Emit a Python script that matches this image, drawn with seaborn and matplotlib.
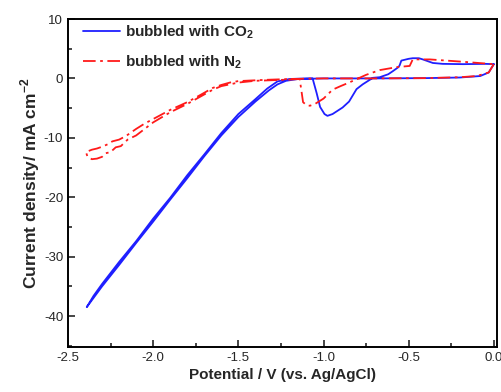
import matplotlib
matplotlib.use("Agg")
import matplotlib.pyplot as plt
import pandas as pd
import seaborn as sns
from matplotlib.ticker import MultipleLocator

# CV scan, bubbled with CO2 (potential V, current mA cm-2)
co2_pot = [0.0, -0.03, -0.08, -0.2, -0.4, -0.7, -1.0, -1.15, -1.22, -1.27, -1.32,
           -1.4, -1.5, -1.6, -1.7, -1.8, -1.9, -2.0, -2.1, -2.2, -2.3, -2.39,
           -2.35, -2.3, -2.2, -2.1, -2.0, -1.9, -1.8, -1.7, -1.6, -1.5, -1.4, -1.33,
           -1.27, -1.2, -1.1, -1.064, -1.04, -1.02, -0.994, -0.977, -0.947,
           -0.888, -0.85, -0.806, -0.77, -0.71, -0.67, -0.62, -0.594, -0.56,
           -0.553, -0.543, -0.5, -0.476, -0.44, -0.417, -0.358, -0.3, -0.18,
           -0.05, 0.0]
co2_cur = [2.4, 1.0, 0.4, 0.15, 0.05, 0.0, 0.0, -0.1, -0.4, -1.0, -2.0,
           -3.9, -6.5, -9.6, -13.1, -16.8, -20.4, -24.1, -27.7, -31.4, -35.0, -38.5,
           -36.6, -34.6, -30.9, -27.4, -23.6, -20.1, -16.3, -12.8, -9.2, -6.0, -3.5, -1.7,
           -0.5, -0.1, 0.0, 0.0, -2.5, -4.8, -6.0, -6.3, -6.0,
           -4.9, -3.9, -1.8, -1.0, 0.1, 0.2, 0.7, 1.2, 1.9,
           2.2, 3.0, 3.3, 3.4, 3.4, 3.2, 2.6, 2.45, 2.4,
           2.45, 2.4]

# CV scan, bubbled with N2
n2_pot = [0.0, -0.03, -0.1, -0.2, -0.4, -0.7, -1.0, -1.2, -1.35, -1.5, -1.55,
          -1.6, -1.65, -1.73, -1.8, -1.9, -1.965, -2.05, -2.1, -2.16, -2.2, -2.24,
          -2.26, -2.3, -2.33, -2.36, -2.395, -2.385, -2.36, -2.33, -2.3, -2.28,
          -2.25, -2.22, -2.19, -2.15, -2.1, -2.0, -1.9, -1.8, -1.7, -1.65, -1.6,
          -1.5, -1.4, -1.3, -1.2, -1.14, -1.13, -1.12, -1.1, -1.08, -1.05, -1.0,
          -0.947, -0.9, -0.85, -0.75, -0.67, -0.57, -0.494, -0.476, -0.376,
          -0.18, 0.0]
n2_cur = [2.4, 1.0, 0.4, 0.2, 0.05, 0.0, 0.0, -0.1, -0.25, -0.45, -0.7,
          -1.1, -1.6, -2.9, -4.0, -5.3, -6.3, -7.6, -8.5, -9.7, -10.3, -10.6,
          -11.0, -11.5, -11.8, -12.0, -12.4, -13.2, -13.6, -13.5, -13.2, -12.6,
          -12.4, -11.6, -11.4, -10.3, -9.6, -7.4, -5.7, -4.3, -2.7, -1.9, -1.3,
          -0.7, -0.4, -0.3, -0.2, -0.1, -2.0, -4.0, -4.5, -4.6, -4.3, -3.4,
          -1.9, -1.3, -0.7, 0.6, 1.4, 1.9, 2.1, 3.2, 3.2,
          2.8, 2.4]

labels = ["bubbled with CO$_\\mathbf{2}$", "bubbled with N$_\\mathbf{2}$"]

sns.set_style("ticks")
plt.rcParams["font.family"] = ["Liberation Sans", "DejaVu Sans"]
plt.rcParams["axes.unicode_minus"] = False
plt.rcParams["mathtext.fontset"] = "custom"
plt.rcParams["mathtext.rm"] = "Liberation Sans"
plt.rcParams["mathtext.bf"] = "Liberation Sans:bold"

fig = plt.figure(figsize=(5.02, 3.92), dpi=100)
ax = fig.add_axes([0.1355, 0.115, 0.855, 0.8365])

for pot, cur, color, ls, lab in [
    (co2_pot, co2_cur, "#1f1fff", "-", labels[0]),
    (n2_pot, n2_cur, "#ff1a1a", (0, (7, 2.5, 1.5, 2.5)), labels[1]),
]:
    sub = pd.DataFrame({"pot": pot, "cur": cur})
    sns.lineplot(data=sub, x="pot", y="cur", sort=False, estimator=None, ax=ax,
                 color=color, linestyle=ls, lw=1.3, label=lab)

ax.set_xlim(-2.5, 0.02)
ax.set_ylim(-45.2, 10)
ax.xaxis.set_major_locator(MultipleLocator(0.5))
ax.xaxis.set_minor_locator(MultipleLocator(0.25))
ax.yaxis.set_major_locator(MultipleLocator(10))
ax.yaxis.set_minor_locator(MultipleLocator(5))
ax.tick_params(which="both", direction="in", top=False, right=False, labelsize=9.5)
ax.tick_params(which="major", length=5, width=1.2)
ax.tick_params(which="minor", length=3, width=1.2)
for s in ax.spines.values():
    s.set_linewidth(1.4)
    s.set_color("black")

ax.set_xlabel("Potential / V (vs. Ag/AgCl)", fontsize=11, fontweight="bold", labelpad=3)
ax.set_ylabel("Current density/ mA cm$^\\mathbf{-2}$", fontsize=12.5, fontweight="bold", labelpad=1)

leg = ax.legend(loc="upper left", bbox_to_anchor=(0.021, 1.005), frameon=False,
                handlelength=2.4, labelspacing=0.8, borderaxespad=0,
                prop={"weight": "bold", "size": 11}, handletextpad=0.33)

fig.savefig("out.png", dpi=100)
